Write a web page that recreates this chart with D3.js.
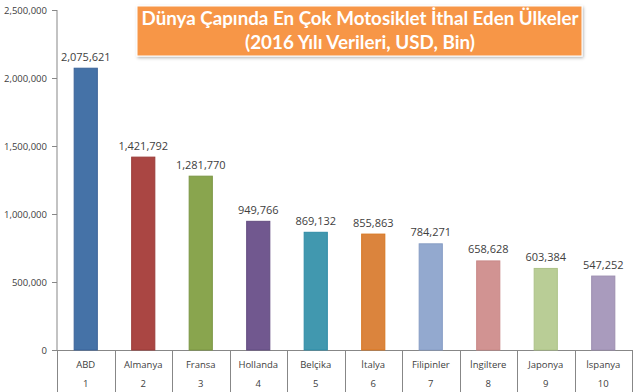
<!DOCTYPE html>
<html><head><meta charset="utf-8">
<script src="https://cdn.jsdelivr.net/npm/d3@7"></script>
<style>body{margin:0;background:#fff}svg{display:block}</style>
</head><body>
<svg id="c" width="640" height="392"></svg>
<script>
const countries = ["ABD","Almanya","Fransa","Hollanda","Belçika","İtalya","Filipinler","İngiltere","Japonya","İspanya"];
const ranks = ["1","2","3","4","5","6","7","8","9","10"];
const values = [2075621,1421792,1281770,949766,869132,855863,784271,658628,603384,547252];
const colors = ["#4572A7","#AA4643","#89A54E","#71588F","#4198AF","#DB843D","#93A9CF","#D19392","#B9CD96","#A99BBD"];
const strokes = ["#3A6399","#9A3B38","#7A9543","#634C80","#2F8CA6","#D87620","#869CC4","#C88887","#ACC287","#9C8EB0"];
const yTicks = [0,500000,1000000,1500000,2000000,2500000];
const titleLines = ["Dünya Çapında En Çok Motosiklet İthal Eden Ülkeler","(2016 Yılı Verileri, USD, Bin)"];

(function(){
const svg = d3.select("#c");
const pL = 57, pR = 632, pT = 10, pB = 350;
const x = d3.scaleBand().domain(countries).range([pL, pR]).paddingInner(0.58).paddingOuter(0.29);
const xb = d3.scaleBand().domain(countries).range([pL, pR]);
const y = d3.scaleLinear().domain([0, 2500000]).range([pB, pT]);
const fmt = d3.format(",");
const axisCol = "#878787", txtCol = "#404040";

// y axis
const ya = svg.append("g").attr("transform", `translate(${pL},0)`)
  .call(d3.axisLeft(y).tickValues(yTicks).tickFormat(fmt).tickSize(5).tickPadding(5));
ya.select(".domain").attr("stroke", axisCol).attr("d", `M0,${pT}V${pB}`);
ya.selectAll(".tick line").attr("stroke", axisCol);
ya.selectAll(".tick text").attr("fill", txtCol).style("font-family", "Open Sans").style("font-size", "9.5px");

// x axis baseline
svg.append("line").attr("x1", pL - 5).attr("x2", pR).attr("y1", pB + 0.5).attr("y2", pB + 0.5).attr("stroke", axisCol);
// dividers
const divs = countries.map(c => xb(c)).concat([pR]);
svg.selectAll("line.div").data(divs).enter().append("line")
  .attr("x1", d => Math.round(d) + 0.5).attr("x2", d => Math.round(d) + 0.5).attr("y1", pB).attr("y2", 392).attr("stroke", axisCol);

// bars
svg.selectAll("rect.bar").data(values).enter().append("rect")
  .attr("x", (d, i) => x(countries[i]) + 0.5).attr("width", x.bandwidth() - 1)
  .attr("y", d => y(d) + 0.5).attr("height", d => pB - y(d) - 0.5)
  .attr("fill", (d, i) => colors[i]).attr("stroke", (d, i) => strokes[i]).attr("stroke-width", 1);

// value labels
svg.selectAll("text.val").data(values).enter().append("text")
  .attr("x", (d, i) => xb(countries[i]) + xb.bandwidth() / 2).attr("y", d => y(d) - 7)
  .attr("text-anchor", "middle").attr("fill", txtCol)
  .style("font-family", "Open Sans").style("font-size", "11px").text(d => fmt(d));

// category labels
svg.selectAll("text.cat").data(countries).enter().append("text")
  .attr("x", d => xb(d) + xb.bandwidth() / 2).attr("y", 368)
  .attr("text-anchor", "middle").attr("fill", txtCol)
  .style("font-family", "Open Sans").style("font-size", "9.5px").text(d => d);
svg.selectAll("text.rank").data(ranks).enter().append("text")
  .attr("x", (d, i) => xb(countries[i]) + xb.bandwidth() / 2).attr("y", 387)
  .attr("text-anchor", "middle").attr("fill", txtCol)
  .style("font-family", "Open Sans").style("font-size", "9.5px").text(d => d);

// title box
const defs = svg.append("defs");
const f = defs.append("filter").attr("id", "sh").attr("x", "-5%").attr("y", "-20%").attr("width", "110%").attr("height", "140%");
f.append("feDropShadow").attr("dx", 1).attr("dy", 1.5).attr("stdDeviation", 1.5).attr("flood-color", "#000").attr("flood-opacity", 0.3);
svg.append("rect").attr("x", 137).attr("y", 6).attr("width", 445).attr("height", 50)
  .attr("fill", "#F79646").attr("stroke", "#fff").attr("stroke-width", 1).attr("filter", "url(#sh)");
svg.append("text").attr("x", 360).attr("y", 25).attr("text-anchor", "middle").attr("fill", "#fff")
  .style("font-family", "Lato").style("font-weight", "bold").style("font-size", "18px")
  .attr("textLength", 437).attr("lengthAdjust", "spacingAndGlyphs").text(titleLines[0]);
svg.append("text").attr("x", 360).attr("y", 49).attr("text-anchor", "middle").attr("fill", "#fff")
  .style("font-family", "Lato").style("font-weight", "bold").style("font-size", "18px")
  .attr("textLength", 230).attr("lengthAdjust", "spacingAndGlyphs").text(titleLines[1]);
})();
</script>
</body></html>
